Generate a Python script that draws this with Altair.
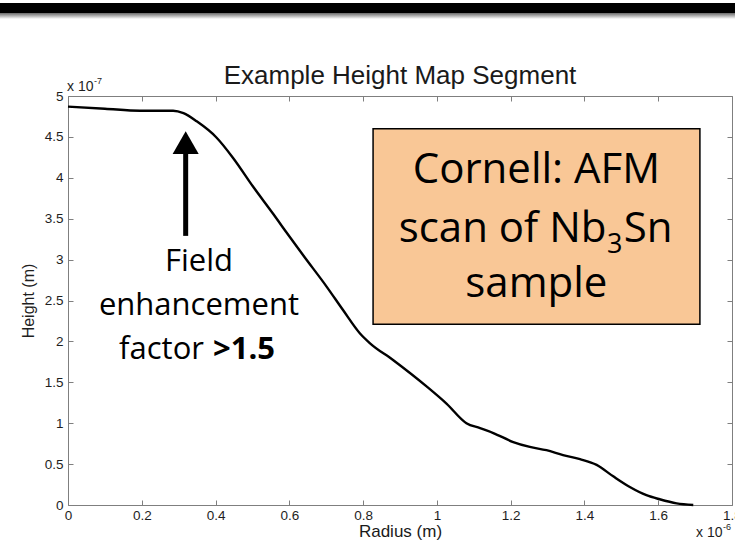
import altair as alt
import pandas as pd

# Height profile along the radius (radius in 1e-6 m, height in 1e-7 m)
radius_um = [0.0, 0.10, 0.195, 0.285, 0.313, 0.349, 0.403, 0.448, 0.502, 0.556,
             0.583, 0.638, 0.701, 0.746, 0.791, 0.818, 0.882, 0.972, 1.026, 1.080,
             1.117, 1.153, 1.207, 1.252, 1.297, 1.342, 1.388, 1.433, 1.478, 1.523,
             1.568, 1.604, 1.650, 1.695]
height_e7 = [4.87, 4.845, 4.82, 4.82, 4.79, 4.69, 4.49, 4.24, 3.89, 3.56,
             3.39, 3.05, 2.67, 2.38, 2.10, 1.98, 1.77, 1.45, 1.24, 1.00,
             0.94, 0.88, 0.77, 0.71, 0.67, 0.61, 0.56, 0.49, 0.35, 0.22,
             0.12, 0.07, 0.02, 0.0]

x_ticks = [0, 0.2, 0.4, 0.6, 0.8, 1.0, 1.2, 1.4, 1.6, 1.8]
y_ticks = [0, 0.5, 1, 1.5, 2, 2.5, 3, 3.5, 4, 4.5, 5]

W, H = 664, 409
FRAME = "#7f7f7f"
INK = "#1e1e1e"
AXIS_FONT = "Liberation Sans"
NOTE_FONT = "Open Sans"

profile = pd.DataFrame({"r": radius_um, "h": height_e7})
one_row = pd.DataFrame({"k": [0]})

xs = alt.Scale(domain=[0, 1.8], nice=False, zero=False)
ys = alt.Scale(domain=[0, 5], nice=False, zero=False)

# Main curve with the labelled bottom and left axes
curve = alt.Chart(profile).mark_line(
    color="black", strokeWidth=2.4, interpolate="monotone"
).encode(
    x=alt.X("r:Q", scale=xs, axis=alt.Axis(
        orient="bottom", values=x_ticks, format="~g", ticks=False, domain=False,
        grid=False, labelFlush=False, labelPadding=3, labelFont=AXIS_FONT,
        labelFontSize=13.5, labelColor=INK, title="Radius (m)",
        titleFont=AXIS_FONT, titleFontSize=17, titleFontWeight="normal",
        titleColor="#1a1a1a", titlePadding=2)),
    y=alt.Y("h:Q", scale=ys, axis=alt.Axis(
        orient="left", values=y_ticks, format="~g", ticks=False, domain=False,
        grid=False, labelFlush=False, labelPadding=5, labelFont=AXIS_FONT,
        labelFontSize=13.5, labelColor=INK, title="Height (m)",
        titleFont=AXIS_FONT, titleFontSize=16, titleFontWeight="normal",
        titleColor=INK, titlePadding=8)),
)


def tick_axis(orient, offset, values):
    return alt.Axis(orient=orient, offset=offset, values=values, labels=False,
                    domain=False, grid=False, title=None, ticks=True,
                    tickSize=5, tickColor=FRAME, tickWidth=1)


# Inward ticks on all four sides of the box
ticks_bottom = alt.Chart(profile).mark_point(opacity=0).encode(
    x=alt.X("r:Q", scale=xs, axis=tick_axis("top", -H, x_ticks)))
ticks_top = alt.Chart(profile).mark_point(opacity=0).encode(
    x=alt.X("r:Q", scale=xs, axis=tick_axis("bottom", -H, x_ticks)))
ticks_left = alt.Chart(profile).mark_point(opacity=0).encode(
    y=alt.Y("h:Q", scale=ys, axis=tick_axis("right", -W, y_ticks)))
ticks_right = alt.Chart(profile).mark_point(opacity=0).encode(
    y=alt.Y("h:Q", scale=ys, axis=tick_axis("left", -W, y_ticks)))


def note(text, x, y, size, align="center", weight="normal", font=NOTE_FONT,
         dx=0, dy=0, color="black"):
    d = pd.DataFrame({"x": [x], "y": [y], "t": [text]})
    return alt.Chart(d).mark_text(
        font=font, fontSize=size, fontWeight=weight, align=align,
        baseline="alphabetic", color=color, dx=dx, dy=dy
    ).encode(
        x=alt.X("x:Q", scale=xs, axis=None),
        y=alt.Y("y:Q", scale=ys, axis=None),
        text="t:N",
    )


# Plot title above the box
title = note("Example Height Map Segment", 0.9, 5, 26, font=AXIS_FONT, dy=-12,
             color="#1a1a1a")

# Axis multipliers
exp_y = note("x 10", 0, 5, 14, align="left", font=AXIS_FONT, dx=-1, dy=-5, color=INK)
exp_y_sup = note("-7", 0, 5, 9, align="left", font=AXIS_FONT, dx=26, dy=-12, color=INK)
exp_x = note("x 10", 1.8, 0, 14, align="left", font=AXIS_FONT, dx=-36, dy=32, color=INK)
exp_x_sup = note("-6", 1.8, 0, 9, align="left", font=AXIS_FONT, dx=-9, dy=25, color=INK)

# Arrow pointing at the shoulder of the profile
arrow_x = 0.319
shaft = alt.Chart(pd.DataFrame({"x": [arrow_x], "y": [3.29], "y2": [4.30]})).mark_rule(
    color="black", strokeWidth=5
).encode(
    x=alt.X("x:Q", scale=xs, axis=None),
    y=alt.Y("y:Q", scale=ys, axis=None),
    y2="y2:Q",
)
head = alt.Chart(pd.DataFrame({"x": [arrow_x], "y": [4.43]})).mark_point(
    shape="triangle-up", size=680, filled=True, color="black", opacity=1, strokeWidth=0
).encode(
    x=alt.X("x:Q", scale=xs, axis=None),
    y=alt.Y("y:Q", scale=ys, axis=None),
)

field_notes = [
    note("Field", 0.355, 2.864, 31),
    note("enhancement", 0.355, 2.323, 31),
    note("factor", 0.3686, 1.781, 31, align="right"),
    note(">1.5", 0.393, 1.781, 31, align="left", weight="bold"),
]

# Sample label box
box = alt.Chart(pd.DataFrame({"x": [0.827], "x2": [1.713], "y": [2.21], "y2": [4.60]})).mark_rect(
    fill="#F9C796", stroke="black", strokeWidth=1.5
).encode(
    x=alt.X("x:Q", scale=xs, axis=None), x2="x2:Q",
    y=alt.Y("y:Q", scale=ys, axis=None), y2="y2:Q",
)
box_notes = [
    note("Cornell: AFM", 1.2697, 3.933, 42),
    note("scan of Nb", 1.4597, 3.219, 42, align="right"),
    note("3", 1.461, 3.077, 27, align="left"),
    note("Sn", 1.5068, 3.219, 42, align="left"),
    note("sample", 1.2697, 2.546, 42),
]

# Dark band across the top of the slide, with its soft shadow
band = alt.Chart(one_row).mark_rect(color="black").encode(
    x=alt.value(-68), x2=alt.value(W + 3), y=alt.value(-93), y2=alt.value(-83))
band_shadow = alt.Chart(one_row).mark_rect(
    fill=alt.LinearGradient(
        gradient="linear", x1=0, x2=0, y1=0, y2=1,
        stops=[alt.GradientStop(color="#6a6a6a", offset=0),
               alt.GradientStop(color="#ffffff", offset=1)])
).encode(x=alt.value(-68), x2=alt.value(W + 3), y=alt.value(-83), y2=alt.value(-77))

chart = alt.layer(
    band, band_shadow,
    ticks_bottom, ticks_top, ticks_left, ticks_right,
    curve,
    shaft, head, *field_notes,
    box, *box_notes,
    title, exp_y, exp_y_sup, exp_x, exp_x_sup,
).resolve_axis(
    x="independent", y="independent"
).properties(
    width=W, height=H,
    autosize=alt.AutoSizeParams(type="none"),
    padding={"left": 68, "top": 96, "right": 3, "bottom": 36},
    background="white",
).configure_view(
    stroke=FRAME, strokeWidth=1
)

chart.save("out.html", embed_options={"renderer": "svg", "actions": False})
